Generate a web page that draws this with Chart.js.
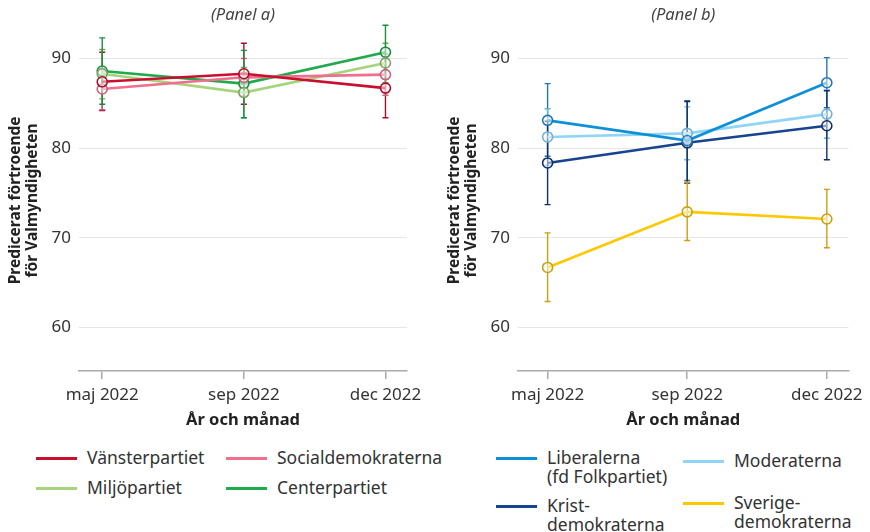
<!DOCTYPE html>
<html><head><meta charset="utf-8">
<script src="https://cdn.jsdelivr.net/npm/chart.js@4.4.1/dist/chart.umd.min.js"></script>
<style>
html,body{margin:0;padding:0;background:#fff;width:870px;height:532px;overflow:hidden;font-family:"Noto Sans",sans-serif;}
#a{position:absolute;left:0;top:0;}
#b{position:absolute;left:435px;top:0;}
.lt{position:absolute;font-size:17.5px;color:#333;line-height:19px;white-space:nowrap;}
.sw{position:absolute;height:3px;width:41px;}
</style></head><body>
<canvas id="a" width="435" height="440"></canvas>
<canvas id="b" width="435" height="440"></canvas>
<div id="legend"></div>
<script>
// ---- categories / ticks ----
const months = ['maj 2022', 'sep 2022', 'dec 2022'];
const yTicks = [60, 70, 80, 90];

// ---- Panel a ----
const vMean = [87.4, 88.3, 86.7];
const vLow  = [84.2, 84.9, 83.4];
const vHigh = [90.7, 91.7, 90.0];

const sMean = [86.6, 87.9, 88.2];
const sLow  = [84.3, 85.8, 85.9];
const sHigh = [88.9, 90.0, 90.5];

const mpMean = [88.3, 86.2, 89.5];
const mpLow  = [85.5, 83.4, 87.3];
const mpHigh = [91.0, 89.0, 91.7];

const cMean = [88.6, 87.2, 90.7];
const cLow  = [84.9, 83.4, 87.7];
const cHigh = [92.3, 90.9, 93.7];

// ---- Panel b ----
const lMean = [83.1, 80.85, 87.3];
const lLow  = [79.1, 76.4, 84.5];
const lHigh = [87.2, 85.3, 90.1];

const moMean = [81.25, 81.65, 83.8];
const moLow  = [78.1, 78.7, 81.1];
const moHigh = [84.4, 84.6, 86.5];

const kMean = [78.35, 80.6, 82.5];
const kLow  = [73.7, 76.1, 78.7];
const kHigh = [83.0, 85.2, 86.4];

const sdMean = [66.7, 72.9, 72.1];
const sdLow  = [62.9, 69.7, 68.9];
const sdHigh = [70.55, 76.2, 75.4];

const FONT = '"Noto Sans", sans-serif';

const errorBars = {
  id: 'errorBars',
  beforeDatasetsDraw(chart) {
    const {ctx, scales: {x, y}} = chart;
    chart.data.datasets.forEach(ds => {
      if (!ds.errLow) return;
      ctx.save();
      ctx.strokeStyle = ds.errColor;
      ctx.lineWidth = 1.4;
      ds.errLow.forEach((lo, j) => {
        const hi = ds.errHigh[j];
        const px = x.getPixelForValue(ds.data[j].x);
        const y1 = y.getPixelForValue(lo), y2 = y.getPixelForValue(hi);
        ctx.beginPath();
        ctx.moveTo(px, y1); ctx.lineTo(px, y2);
        ctx.moveTo(px - 3, y1); ctx.lineTo(px + 3, y1);
        ctx.moveTo(px - 3, y2); ctx.lineTo(px + 3, y2);
        ctx.stroke();
      });
      ctx.restore();
    });
  }
};

function mk(label, mean, lo, hi, col, dark) {
  return {
    label, data: mean.map((v, i) => ({x: i, y: v})),
    errLow: lo, errHigh: hi, errColor: dark,
    borderColor: col, borderWidth: 2.6, tension: 0,
    pointRadius: 5, pointHoverRadius: 5, pointBorderWidth: 1.6,
    pointBorderColor: dark, pointBackgroundColor: 'rgba(255,255,255,0.5)',
    fill: false
  };
}

function makeChart(id, title, datasets, xmin, xmax, yTitlePad, leftW, rightPad) {
  return new Chart(document.getElementById(id), {
    type: 'line',
    data: {datasets},
    plugins: [errorBars],
    options: {
      responsive: false, animation: false,
      layout: {padding: {left: 0, right: rightPad, top: 0, bottom: 0}},
      plugins: {
        legend: {display: false}, tooltip: {enabled: false},
        title: {display: true, text: title, fullSize: false, color: '#444',
          font: {family: FONT, size: 16.5, style: 'italic', weight: 'normal', lineHeight: 1.2},
          padding: {top: 5, bottom: 5}}
      },
      scales: {
        x: {
          type: 'linear', min: xmin, max: xmax,
          afterBuildTicks: s => { s.ticks = months.map((m, i) => ({value: i})); },
          afterFit: s => { s.height = 440 - 371; },
          ticks: {callback: (v) => months[Math.round(v)], color: '#333', padding: 6,
            autoSkip: false, maxRotation: 0, font: {family: FONT, size: 17}},
          grid: {drawOnChartArea: false, drawTicks: true, tickLength: 8, color: '#aaa', lineWidth: 1.5},
          border: {display: true, color: '#aaa', width: 1.5},
          title: {display: true, text: 'År och månad', color: '#222',
            font: {family: FONT, size: 16.5, weight: 'bold', lineHeight: 1.2},
            padding: {top: 0, bottom: 10}}
        },
        y: {
          min: 55.15, max: 93.2,
          afterBuildTicks: s => { s.ticks = yTicks.map(v => ({value: v})); },
          afterFit: s => { s.width = leftW; },
          ticks: {color: '#333', padding: 8, font: {family: FONT, size: 17}},
          grid: {color: '#e6e6e6', lineWidth: 1, drawTicks: false},
          border: {display: false},
          title: {display: true, text: ['Predicerat förtroende', 'för Valmyndigheten'], color: '#222',
            font: {family: FONT, size: 15.5, weight: 'bold', lineHeight: 1.1},
            padding: {top: yTitlePad, bottom: 0}}
        }
      }
    }
  });
}

const labelsA = ['Vänsterpartiet', 'Socialdemokraterna', 'Miljöpartiet', 'Centerpartiet'];
const labelsB = [['Liberalerna', '(fd Folkpartiet)'], ['Moderaterna'], ['Krist-', 'demokraterna'], ['Sverige-', 'demokraterna']];

const colA = ['#c8102e', '#f06e8e', '#a5d47c', '#1faa4b'];
const darkA = ['#a80d2a', '#d0607e', '#7fa45e', '#16903e'];
const colB = ['#0d90d6', '#90d4f6', '#17438f', '#fcc800'];
const darkB = ['#2479b3', '#70b2d4', '#0f2f6a', '#c8a112'];

makeChart('a', '(Panel a)', [
  mk(labelsA[0], vMean, vLow, vHigh, colA[0], darkA[0]),
  mk(labelsA[1], sMean, sLow, sHigh, colA[1], darkA[1]),
  mk(labelsA[2], mpMean, mpLow, mpHigh, colA[2], darkA[2]),
  mk(labelsA[3], cMean, cLow, cHigh, colA[3], darkA[3])
], -0.164, 2.152, 7, 79, 28);

makeChart('b', '(Panel b)', [
  mk(labelsB[0].join(' '), lMean, lLow, lHigh, colB[0], darkB[0]),
  mk(labelsB[1].join(' '), moMean, moLow, moHigh, colB[1], darkB[1]),
  mk(labelsB[2].join(' '), kMean, kLow, kHigh, colB[2], darkB[2]),
  mk(labelsB[3].join(' '), sdMean, sdLow, sdHigh, colB[3], darkB[3])
], -0.212, 2.155, 11.5, 83, 17);

// ---- HTML legend ----
const legItems = [
  {lines: [labelsA[0]], col: colA[0], lx: 36, ly: 458, tx: 87},
  {lines: [labelsA[1]], col: colA[1], lx: 226, ly: 458, tx: 277},
  {lines: [labelsA[2]], col: colA[2], lx: 36, ly: 488, tx: 87},
  {lines: [labelsA[3]], col: colA[3], lx: 226, ly: 488, tx: 277},
  {lines: labelsB[0], col: colB[0], lx: 496, ly: 458, tx: 547},
  {lines: labelsB[1], col: colB[1], lx: 683, ly: 461, tx: 734},
  {lines: labelsB[2], col: colB[2], lx: 496, ly: 506, tx: 547},
  {lines: labelsB[3], col: colB[3], lx: 683, ly: 503, tx: 734}
];
const leg = document.getElementById('legend');
legItems.forEach(it => {
  const sw = document.createElement('div');
  sw.className = 'sw';
  sw.style.left = it.lx + 'px'; sw.style.top = (it.ly - 1.5) + 'px'; sw.style.background = it.col;
  leg.appendChild(sw);
  const t = document.createElement('div');
  t.className = 'lt';
  t.style.left = it.tx + 'px'; t.style.top = (it.ly - 10) + 'px';
  t.innerHTML = it.lines.join('<br>');
  leg.appendChild(t);
});
</script>
</body></html>
